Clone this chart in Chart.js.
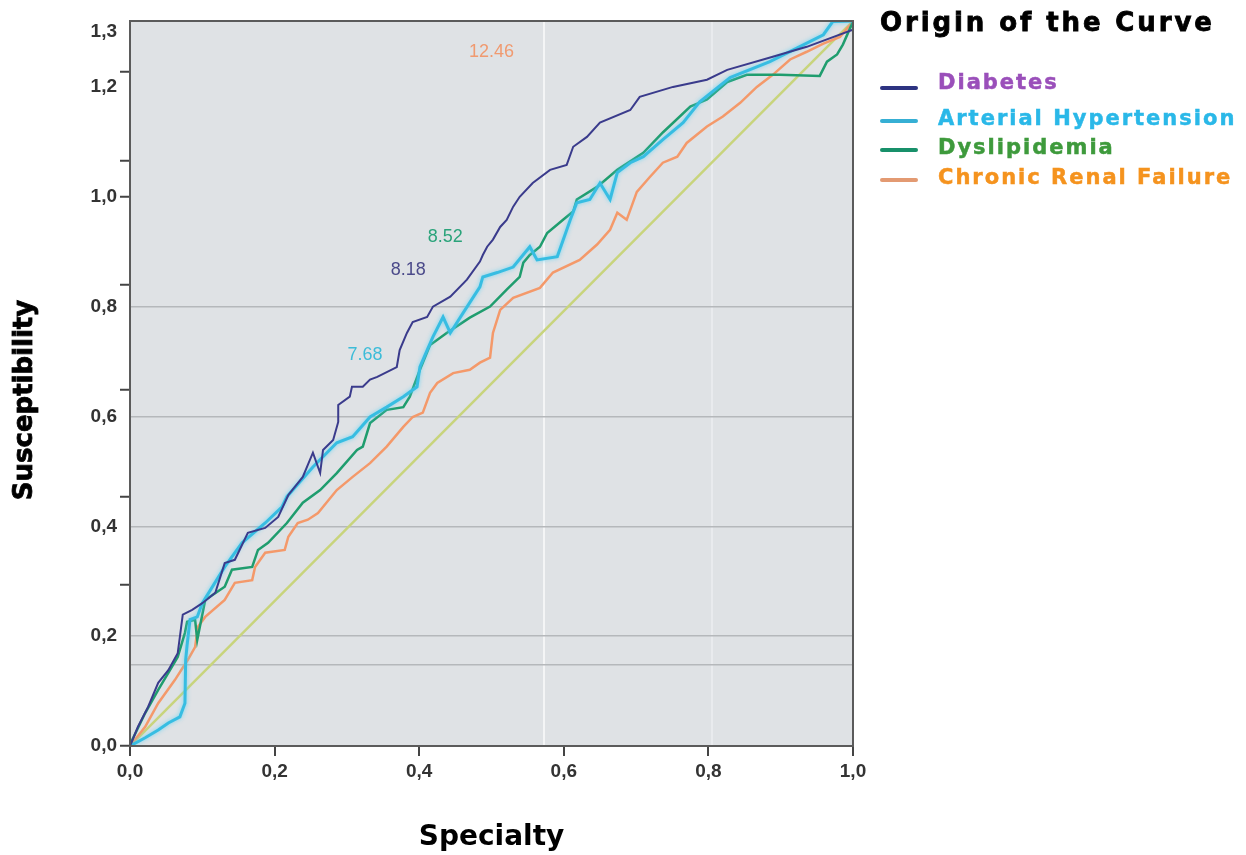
<!DOCTYPE html>
<html>
<head>
<meta charset="utf-8">
<script src="https://cdn.jsdelivr.net/npm/chart.js@4.4.1/dist/chart.umd.min.js"></script>
<style>
  html, body { margin: 0; padding: 0; background: #fff; }
  #contenedor { position: relative; width: 1246px; height: 855px; }
  #grafico { position: absolute; left: 0; top: 0; }
  .leyenda { position: absolute; font-family: 'DejaVu Sans', sans-serif; font-weight: bold; white-space: nowrap; -webkit-text-stroke: 0.5px currentColor; }
  .titulo { left: 880px; top: 7px; font-size: 26px; line-height: 30px; letter-spacing: 2.9px; color: #000; -webkit-text-stroke: 0.8px #000; }
  .texto { left: 938px; font-size: 21px; line-height: 24px; letter-spacing: 2px; }
  .muestra { position: absolute; left: 880px; width: 38px; height: 4px; border-radius: 2px; }
</style>
</head>
<body>
<div id="contenedor">
  <canvas id="grafico" width="1246" height="855"></canvas>
  <div class="leyenda titulo">Origin of the Curve</div>
</div>
<script>
// Nombres de las curvas
const series = ['Diabetes', 'Arterial Hypertension', 'Dyslipidemia', 'Chronic Renal Failure'];

// Curva Diabetes
const diabetesX = [0,0.011,0.025,0.039,0.053,0.066,0.073,0.086,0.100,0.118,0.131,0.145,0.163,0.187,0.205,0.219,0.239,0.253,0.263,0.267,0.281,0.288,0.288,0.304,0.307,0.322,0.332,0.342,0.369,0.373,0.383,0.391,0.411,0.419,0.443,0.466,0.484,0.488,0.494,0.502,0.512,0.521,0.530,0.539,0.557,0.581,0.604,0.613,0.632,0.650,0.692,0.705,0.751,0.798,0.826,0.889,0.936,1.0];
const diabetesY = [0,0.035,0.071,0.115,0.138,0.169,0.239,0.248,0.260,0.279,0.333,0.339,0.388,0.397,0.417,0.457,0.490,0.534,0.497,0.539,0.557,0.590,0.621,0.636,0.654,0.654,0.667,0.672,0.690,0.721,0.752,0.772,0.781,0.800,0.818,0.849,0.882,0.894,0.909,0.922,0.945,0.958,0.982,1.000,1.025,1.049,1.058,1.091,1.109,1.135,1.158,1.182,1.200,1.213,1.231,1.255,1.273,1.304];

// Curva Hipertensión arterial
const hipertensionX = [0,0.021,0.039,0.053,0.069,0.076,0.077,0.079,0.083,0.093,0.100,0.131,0.155,0.187,0.210,0.217,0.253,0.286,0.308,0.332,0.355,0.378,0.397,0.401,0.411,0.419,0.433,0.443,0.461,0.484,0.488,0.508,0.530,0.553,0.563,0.591,0.609,0.618,0.636,0.650,0.664,0.674,0.692,0.710,0.737,0.765,0.788,0.830,0.885,0.923,0.959,0.972,1.0];
const hipertensionY = [0,0.015,0.029,0.042,0.053,0.078,0.157,0.184,0.230,0.235,0.260,0.326,0.370,0.406,0.435,0.454,0.508,0.552,0.563,0.599,0.617,0.636,0.654,0.690,0.721,0.745,0.781,0.752,0.789,0.836,0.854,0.862,0.872,0.909,0.885,0.891,0.958,0.989,0.995,1.025,0.995,1.044,1.062,1.073,1.104,1.135,1.173,1.217,1.246,1.271,1.295,1.319,1.32];

// Curva Dislipidemia
const dislipidemiaX = [0,0.003,0.021,0.039,0.053,0.066,0.076,0.079,0.090,0.093,0.104,0.131,0.141,0.169,0.177,0.191,0.217,0.239,0.263,0.286,0.314,0.322,0.332,0.355,0.378,0.387,0.401,0.415,0.438,0.470,0.498,0.521,0.539,0.544,0.553,0.567,0.577,0.599,0.613,0.618,0.646,0.674,0.710,0.737,0.775,0.798,0.826,0.853,0.899,0.954,0.964,0.978,0.986,1.0];
const dislipidemiaY = [0,0.011,0.060,0.102,0.133,0.162,0.206,0.226,0.230,0.193,0.266,0.290,0.321,0.326,0.357,0.370,0.406,0.443,0.466,0.497,0.539,0.545,0.588,0.612,0.617,0.636,0.685,0.730,0.752,0.780,0.800,0.831,0.854,0.880,0.894,0.909,0.934,0.958,0.973,0.995,1.018,1.049,1.080,1.117,1.164,1.177,1.209,1.222,1.222,1.220,1.246,1.259,1.277,1.319];

// Curva Insuficiencia renal crónica
const renalX = [0,0.003,0.021,0.039,0.062,0.080,0.090,0.094,0.104,0.131,0.145,0.169,0.173,0.187,0.214,0.219,0.232,0.246,0.260,0.286,0.308,0.332,0.355,0.378,0.391,0.405,0.415,0.425,0.447,0.470,0.484,0.498,0.502,0.512,0.530,0.567,0.585,0.622,0.646,0.664,0.674,0.687,0.701,0.719,0.737,0.757,0.770,0.798,0.820,0.844,0.867,0.889,0.913,0.936,0.959,0.982,1.0];
const renalY = [0,0.005,0.035,0.078,0.120,0.157,0.180,0.217,0.235,0.266,0.297,0.302,0.326,0.352,0.357,0.381,0.406,0.412,0.424,0.466,0.490,0.515,0.545,0.581,0.599,0.607,0.643,0.661,0.679,0.685,0.698,0.707,0.752,0.794,0.816,0.834,0.862,0.885,0.913,0.940,0.971,0.958,1.009,1.036,1.062,1.073,1.098,1.128,1.146,1.171,1.200,1.222,1.250,1.264,1.279,1.291,1.319];

// Línea de referencia
const referenciaX = [0, 1];
const referenciaY = [0, 1.32];

// Valores anotados sobre las curvas
const etiquetasTexto = ['12.46', '8.52', '8.18', '7.68'];
const etiquetasX = [0.500, 0.436, 0.385, 0.325];
const etiquetasY = [1.264, 0.927, 0.867, 0.712];

// Ejes
const xEtiquetas = [0, 0.2, 0.4, 0.6, 0.8, 1.0];
const yEtiquetas = [0, 0.2, 0.4, 0.6, 0.8, 1.0, 1.2, 1.3];
const xMarcas = [0, 0.2, 0.4, 0.573, 0.6, 0.8, 0.805, 1.0];
const yMarcas = [0, 0.148, 0.2, 0.293, 0.4, 0.454, 0.6, 0.648, 0.8, 0.84, 1.0, 1.066, 1.2, 1.228, 1.3];
const yMuescas = [0, 0.293, 0.454, 0.648, 0.84, 1.0, 1.066, 1.228];
const yLineas = [0.148, 0.2, 0.4, 0.6, 0.8];

// Colores
const coloresLinea = ['#3a3b8c', '#37bde2', '#1f9d6e', '#f4996a'];
const coloresMuestra = ['#2d3381', '#36afd4', '#18906a', '#e39a72'];
const coloresTexto = ['#9a4fba', '#2ab8e8', '#3e9a3c', '#f5931e'];
const coloresEtiqueta = ['#f09a70', '#2aa37a', '#4b4a8a', '#3cbcd8'];

function puntos(xs, ys) {
  return xs.map((x, i) => ({ x: x, y: ys[i] }));
}

function formato(v) {
  return v.toFixed(1).replace('.', ',');
}

// Leyenda en HTML
const filasY = [70, 106, 135, 165];
const contenedor = document.getElementById('contenedor');
series.forEach((nombre, i) => {
  const t = document.createElement('div');
  t.className = 'leyenda texto';
  t.style.top = filasY[i] + 'px';
  t.style.color = coloresTexto[i];
  t.textContent = nombre;
  contenedor.appendChild(t);
  const m = document.createElement('div');
  m.className = 'muestra';
  m.style.top = (filasY[i] + 13 + (i === 0 ? 3 : 0)) + 'px';
  m.style.background = coloresMuestra[i];
  contenedor.appendChild(m);
});

// Fondo, marco, etiquetas y título del eje Y
const decorado = {
  id: 'decorado',
  beforeDraw(chart) {
    const { ctx, chartArea: a } = chart;
    ctx.save();
    ctx.fillStyle = '#dfe2e5';
    ctx.fillRect(a.left, a.top, a.right - a.left, a.bottom - a.top);
    ctx.restore();
  },
  beforeDatasetDraw(chart, args) {
    if (args.index === 1) {
      chart.ctx.save();
      chart.ctx.shadowColor = 'rgba(90, 210, 245, 0.8)';
      chart.ctx.shadowBlur = 4;
    }
  },
  afterDatasetDraw(chart, args) {
    if (args.index === 1) chart.ctx.restore();
  },
  afterDatasetsDraw(chart) {
    const { ctx, chartArea: a, scales } = chart;
    ctx.save();
    ctx.font = '18px "Liberation Sans", Arial, sans-serif';
    ctx.textAlign = 'center';
    ctx.textBaseline = 'middle';
    etiquetasTexto.forEach((t, i) => {
      ctx.fillStyle = coloresEtiqueta[i];
      ctx.fillText(t, scales.x.getPixelForValue(etiquetasX[i]), scales.y.getPixelForValue(etiquetasY[i]));
    });
    ctx.strokeStyle = '#5b5b5b';
    ctx.lineWidth = 2;
    ctx.strokeRect(a.left, a.top, a.right - a.left, a.bottom - a.top);
    // título del eje Y (más abajo que el centro, como en el original)
    ctx.translate(25, 400);
    ctx.rotate(-Math.PI / 2);
    ctx.font = 'bold 26px "DejaVu Sans", sans-serif';
    ctx.fillStyle = '#000';
    ctx.strokeStyle = '#000';
    ctx.lineWidth = 0.8;
    ctx.fillText('Susceptibility', 0, 0);
    ctx.strokeText('Susceptibility', 0, 0);
    ctx.restore();
  }
};

const ctx = document.getElementById('grafico').getContext('2d');
new Chart(ctx, {
  type: 'line',
  data: {
    datasets: [
      { label: series[0], data: puntos(diabetesX, diabetesY), borderColor: coloresLinea[0], borderWidth: 2, order: 1 },
      { label: series[1], data: puntos(hipertensionX, hipertensionY), borderColor: coloresLinea[1], borderWidth: 3, order: 2 },
      { label: series[2], data: puntos(dislipidemiaX, dislipidemiaY), borderColor: coloresLinea[2], borderWidth: 2.5, order: 3 },
      { label: series[3], data: puntos(renalX, renalY), borderColor: coloresLinea[3], borderWidth: 2.5, order: 4 },
      { label: 'Referencia', data: puntos(referenciaX, referenciaY), borderColor: '#c8d47c', borderWidth: 2.5, order: 5 }
    ]
  },
  options: {
    responsive: false,
    animation: false,
    elements: { point: { radius: 0 }, line: { tension: 0, fill: false } },
    layout: { padding: { top: 21, right: 393, left: 0, bottom: 0 } },
    plugins: { legend: { display: false }, tooltip: { enabled: false } },
    scales: {
      x: {
        type: 'linear',
        min: 0,
        max: 1,
        afterBuildTicks: s => { s.ticks = xMarcas.map(v => ({ value: v })); },
        afterFit: s => { s.height = 109; },
        ticks: {
          autoSkip: false,
          maxRotation: 0,
          padding: 4,
          color: '#333',
          font: { family: 'Liberation Sans', size: 19, weight: 'bold' },
          callback: v => xEtiquetas.includes(v) ? formato(v) : ''
        },
        grid: {
          color: c => c.tick && c.tick.value === 0.573 ? '#f4f5f6' : (c.tick && c.tick.value === 0.805 ? 'rgba(240,242,244,0.6)' : 'rgba(0,0,0,0)'),
          tickColor: c => c.tick && xEtiquetas.includes(c.tick.value) ? '#444' : 'rgba(0,0,0,0)',
          lineWidth: 2,
          tickWidth: 2,
          tickLength: 10
        },
        border: { color: '#5b5b5b', width: 2 },
        title: {
          display: true,
          text: 'Specialty',
          color: '#000',
          font: { family: 'DejaVu Sans', size: 28, weight: 'bold' },
          padding: { top: 0, bottom: 0 }
        }
      },
      y: {
        type: 'linear',
        min: 0,
        max: 1.32,
        afterBuildTicks: s => { s.ticks = yMarcas.map(v => ({ value: v })); },
        afterFit: s => { s.width = 130; },
        ticks: {
          autoSkip: false,
          padding: 3,
          color: '#333',
          font: { family: 'Liberation Sans', size: 19, weight: 'bold' },
          callback: v => yEtiquetas.includes(v) ? formato(v) : ''
        },
        grid: {
          color: c => c.tick && yLineas.includes(c.tick.value) ? '#b5b8bb' : 'rgba(0,0,0,0)',
          tickColor: c => c.tick && yMuescas.includes(c.tick.value) ? '#444' : 'rgba(0,0,0,0)',
          lineWidth: 1.5,
          tickWidth: 2,
          tickLength: 10
        },
        border: { color: '#5b5b5b', width: 2 }
      }
    }
  },
  plugins: [decorado]
});
</script>
</body>
</html>
